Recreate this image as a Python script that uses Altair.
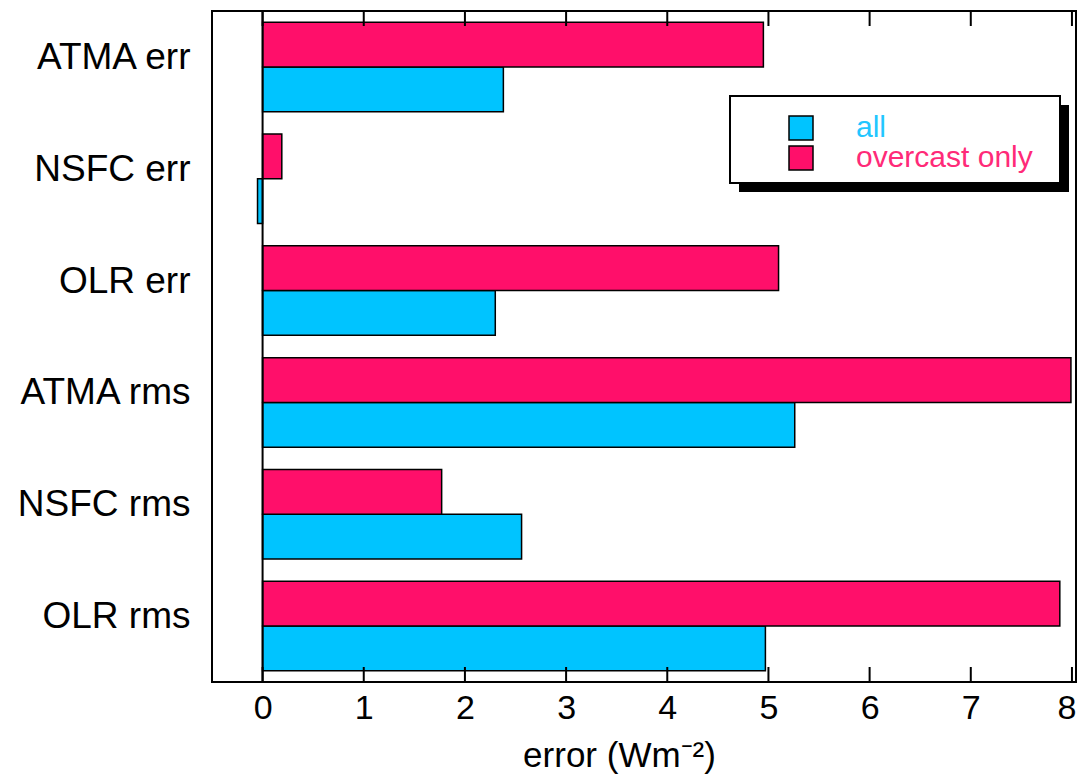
import altair as alt
import pandas as pd

categories = ["ATMA err", "NSFC err", "OLR err", "ATMA rms", "NSFC rms", "OLR rms"]
series_names = ["all", "overcast only"]
all_vals = [2.38, -0.05, 2.30, 5.26, 2.56, 4.97]
overcast_vals = [4.95, 0.19, 5.10, 7.99, 1.77, 7.88]
x_ticks = [0, 1, 2, 3, 4, 5, 6, 7, 8]
zero_line = [0]

CYAN = "#00c4ff"
PINK = "#ff0f6a"
FONT = "Liberation Sans"

rows = []
for c, a, o in zip(categories, all_vals, overcast_vals):
    rows.append({"category": c, "series": "all", "value": a})
    rows.append({"category": c, "series": "overcast only", "value": o})
df = pd.DataFrame(rows)
ticks_df = pd.DataFrame({"t": x_ticks})
zero_df = pd.DataFrame({"z": zero_line})

W, H = 864, 671
xscale = alt.Scale(domain=[-0.5, 8.04], nice=False, zero=False)

bars = alt.Chart(df).mark_bar(stroke="black", strokeWidth=1.5).encode(
    x=alt.X("value:Q", scale=xscale,
            axis=alt.Axis(values=x_ticks, format="d", ticks=False, domain=False, grid=False,
                          labelFontSize=34, labelFont=FONT, labelColor="black",
                          labelPadding=9, labelFlush=6, labelFlushOffset=4,
                          labelBound=False,
                          title="error (Wm⁻²)", titleFont=FONT,
                          titleFontSize=35, titleFontWeight="normal",
                          titleColor="black", titleX=407, titleY=84,
                          titleAlign="center", titleBaseline="alphabetic")),
    y=alt.Y("category:N", sort=categories,
            scale=alt.Scale(paddingInner=0.2, paddingOuter=0.1),
            axis=alt.Axis(ticks=False, domain=False, title=None,
                          labelFontSize=37, labelFont=FONT, labelColor="black",
                          labelPadding=22, labelOffset=-9)),
    yOffset=alt.YOffset("series:N", sort=["overcast only", "all"],
                        scale=alt.Scale(paddingInner=0, paddingOuter=0)),
    color=alt.Color("series:N",
                    scale=alt.Scale(domain=series_names, range=[CYAN, PINK]),
                    legend=alt.Legend(orient="none", legendX=574, legendY=102,
                                      title=None, symbolType="square",
                                      symbolSize=576, symbolStrokeColor="black",
                                      symbolStrokeWidth=1.5, symbolOpacity=1,
                                      labelFont=FONT, labelFontSize=30, labelLimit=400,
                                      labelOffset=40, rowPadding=-6, padding=0,
                                      labelColor=alt.ExprRef(
                                          "datum.label == 'all' ? '#22c6ff' : '#ff2a78'"))),
)

zero_rule = alt.Chart(zero_df).mark_rule(color="black", strokeWidth=2).encode(
    x=alt.X("z:Q", scale=xscale)
)

tick_bottom = alt.Chart(ticks_df).mark_rule(color="black", strokeWidth=2).encode(
    x=alt.X("t:Q", scale=xscale), y=alt.value(H - 15), y2=alt.value(H)
)
tick_top = alt.Chart(ticks_df).mark_rule(color="black", strokeWidth=2).encode(
    x=alt.X("t:Q", scale=xscale), y=alt.value(0), y2=alt.value(15)
)

legend_shadow = alt.Chart(zero_df).mark_rect(color="black").encode(
    x=alt.value(527), x2=alt.value(857), y=alt.value(94), y2=alt.value(181)
)
legend_box = alt.Chart(zero_df).mark_rect(fill="white", stroke="black", strokeWidth=2).encode(
    x=alt.value(518), x2=alt.value(848), y=alt.value(85), y2=alt.value(172)
)

chart = alt.layer(bars, zero_rule, tick_bottom, tick_top, legend_shadow, legend_box).properties(
    width=W, height=H,
    autosize=alt.AutoSizeParams(type="none"),
    padding={"left": 204, "top": 3, "right": 1, "bottom": 92},
).configure_view(stroke="black", strokeWidth=2)

chart.save("out.html", embed_options={"renderer": "svg", "actions": False})
